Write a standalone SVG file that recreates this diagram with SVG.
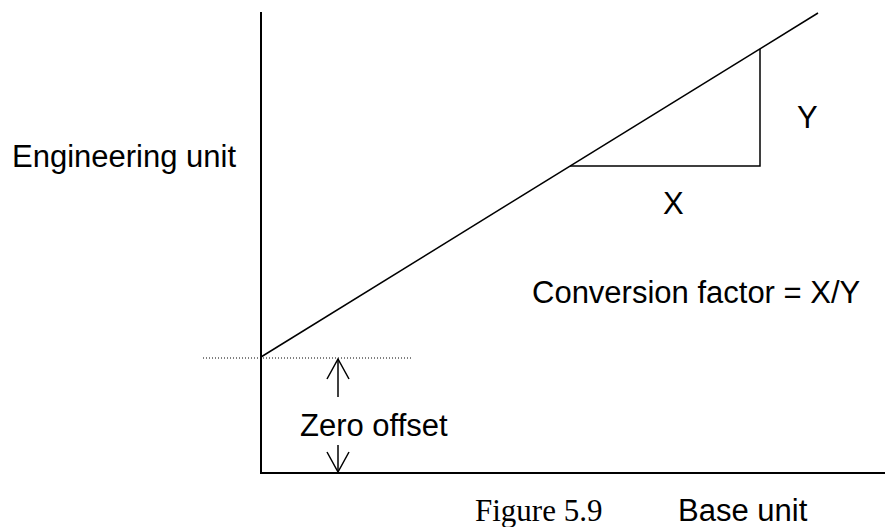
<svg xmlns="http://www.w3.org/2000/svg" width="885" height="527" viewBox="0 0 885 527">
<style>
.ln{stroke:#000;fill:none;stroke-width:1.5}
.ax{stroke:#000;fill:none;stroke-width:2}
.t{font-family:"Liberation Sans",Arial,sans-serif;font-size:31px;fill:#000}
.tr{font-family:"Liberation Serif","Times New Roman",serif;font-size:31px;fill:#000}
</style>
<rect width="885" height="527" fill="#fff"/>
<g id="axes">
<line class="ax" x1="261" y1="12" x2="261" y2="474"/>
<line class="ax" x1="260" y1="473" x2="885" y2="473"/>
</g>
<g id="connectors">
<line class="ln" x1="261" y1="357" x2="818" y2="13"/>
<polyline class="ln" points="570,166 760,166 760,49"/>
<line x1="203" y1="358" x2="412" y2="358" stroke="#000" stroke-width="1" stroke-dasharray="1,2"/>
<line class="ln" x1="338" y1="359" x2="338" y2="397"/>
<polyline class="ln" points="327,379 338,359 349,379"/>
<line class="ln" x1="338" y1="445" x2="338" y2="472"/>
<polyline class="ln" points="327,452 338,472 349,452"/>
</g>
<g id="labels">
<text class="t" x="12" y="167">Engineering unit</text>
<text class="t" x="797" y="128">Y</text>
<text class="t" x="663" y="214">X</text>
<text class="t" x="532" y="303">Conversion factor = X/Y</text>
<text class="t" x="300" y="436">Zero offset</text>
<text class="tr" x="475" y="521">Figure 5.9</text>
<text class="t" x="678" y="521">Base unit</text>
</g>
</svg>
